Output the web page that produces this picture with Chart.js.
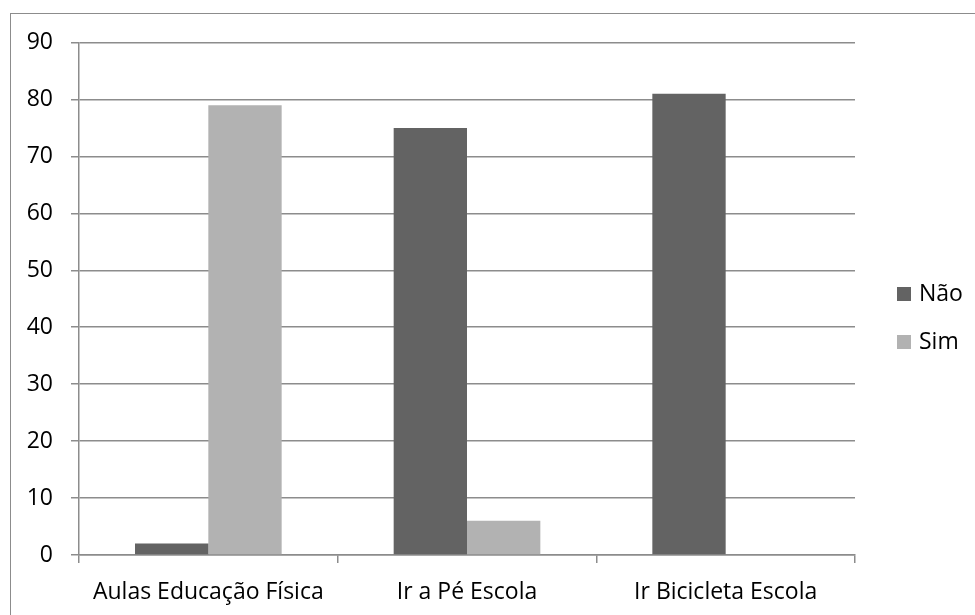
<!DOCTYPE html>
<html>
<head>
<meta charset="utf-8">
<script src="https://cdn.jsdelivr.net/npm/chart.js@4/dist/chart.umd.min.js"></script>
<style>
  html, body { margin: 0; padding: 0; background: #fff; overflow: hidden; }
  #wrap { position: relative; width: 975px; height: 615px; }
  #frame { position: absolute; left: 10px; top: 13px; width: 1000px; height: 700px; border: 1.5px solid #8c8c8c; box-sizing: border-box; }
  canvas { position: absolute; left: 0; top: 0; }
</style>
</head>
<body>
<div id="wrap">
  <div id="frame"></div>
  <canvas id="c" width="975" height="615"></canvas>
</div>
<script>
// Respostas por atividade
const categories = ['Aulas Educação Física', 'Ir a Pé Escola', 'Ir Bicicleta Escola'];
const seriesNames = ['Não', 'Sim'];
const naoValues = [2, 75, 81];
const simValues = [79, 6, 0];
const yTicks = [0, 10, 20, 30, 40, 50, 60, 70, 80, 90];

const FONT = "'Open Sans', 'Liberation Sans', sans-serif";
const FONT_SIZE = 23;
const GRID = '#8c8c8c';
const TEXT = '#000';
const colors = ['#636363', '#b2b2b2'];

// Legend drawn to the right of the plot area, one row per dataset
const sideLegend = {
  id: 'sideLegend',
  afterDraw(chart) {
    const ctx = chart.ctx;
    const x0 = chart.chartArea.right + 42;
    const yStart = 294, step = 48;
    ctx.save();
    ctx.font = FONT_SIZE + 'px ' + FONT;
    ctx.textBaseline = 'middle';
    chart.data.datasets.forEach((ds, i) => {
      const yc = yStart + i * step;
      ctx.fillStyle = ds.backgroundColor;
      ctx.fillRect(x0, yc - 7, 14, 14);
      ctx.fillStyle = TEXT;
      ctx.fillText(ds.label, x0 + 22, yc);
    });
    ctx.restore();
  }
};

new Chart(document.getElementById('c'), {
  type: 'bar',
  data: {
    labels: categories,
    datasets: [
      { label: seriesNames[0], data: naoValues, backgroundColor: colors[0] },
      { label: seriesNames[1], data: simValues, backgroundColor: colors[1] }
    ]
  },
  options: {
    responsive: false,
    animation: false,
    devicePixelRatio: 1,
    layout: { padding: { left: 0, top: 42.5, right: 120, bottom: 0 } },
    datasets: { bar: { categoryPercentage: 0.567, barPercentage: 1.0 } },
    plugins: { legend: { display: false }, tooltip: { enabled: false } },
    scales: {
      x: {
        afterFit(scale) { scale.height = 60; },
        grid: { drawOnChartArea: false, offset: true, tickLength: 8, color: GRID, lineWidth: 1.5 },
        border: { display: true, color: GRID, width: 1.5 },
        ticks: { color: TEXT, font: { family: FONT, size: FONT_SIZE }, padding: 16, maxRotation: 0 }
      },
      y: {
        min: 0, max: 90,
        afterFit(scale) { scale.width = 79; },
        afterBuildTicks(scale) { scale.ticks = yTicks.map(v => ({ value: v })); },
        grid: { color: GRID, lineWidth: 1.5, tickLength: 8 },
        border: { display: true, color: GRID, width: 1.5 },
        ticks: { color: TEXT, font: { family: FONT, size: FONT_SIZE }, padding: 18 }
      }
    }
  },
  plugins: [sideLegend]
});
</script>
</body>
</html>
